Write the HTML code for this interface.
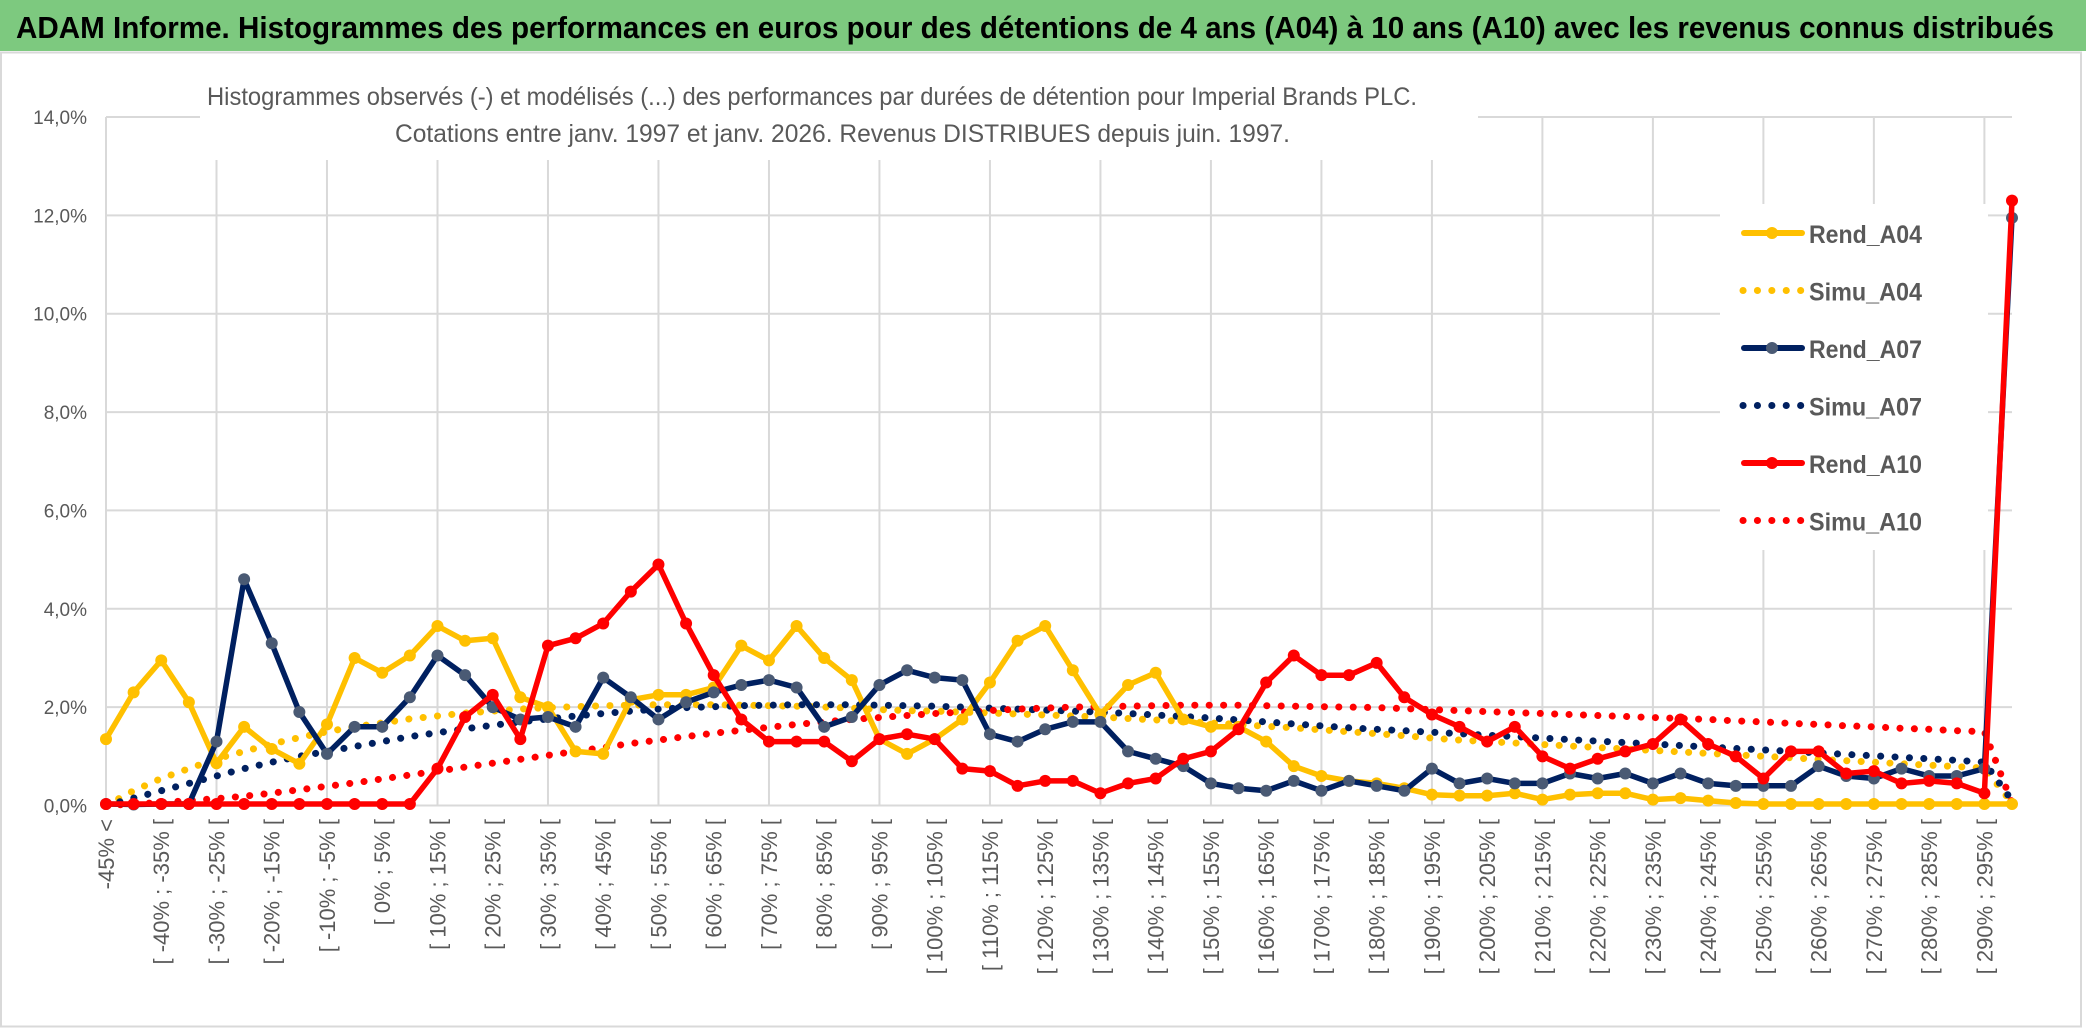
<!DOCTYPE html>
<html><head><meta charset="utf-8"><style>
html,body{margin:0;padding:0;background:#fff;}
svg{display:block;font-family:"Liberation Sans",sans-serif;}
</style></head><body>
<svg id="chart" width="2086" height="1031" viewBox="0 0 2086 1031" xmlns="http://www.w3.org/2000/svg">
<rect x="0" y="0" width="2086" height="1031" fill="#fff"/>
<rect x="0" y="0" width="2086" height="51" fill="#7dc97f"/>
<text x="16" y="38" font-size="31" font-weight="bold" fill="#000" textLength="2038" lengthAdjust="spacingAndGlyphs">ADAM Informe. Histogrammes des performances en euros pour des détentions de 4 ans (A04) à 10 ans (A10) avec les revenus connus distribués</text>
<rect x="1" y="52.5" width="2080" height="974" fill="none" stroke="#d9d9d9" stroke-width="2"/>
<g id="grid"></g>
<rect x="200" y="70" width="1278" height="90" fill="#fff"/>
<text x="207" y="105" font-size="25" fill="#595959" textLength="1210" lengthAdjust="spacingAndGlyphs">Histogrammes observés (-) et modélisés (...) des performances par durées de détention pour Imperial Brands PLC.</text>
<text x="395" y="142" font-size="25" fill="#595959" textLength="895" lengthAdjust="spacingAndGlyphs">Cotations entre janv. 1997 et janv. 2026. Revenus DISTRIBUES depuis juin. 1997.</text>
<rect x="1720" y="204" width="268" height="346" fill="#fff"/>
<g id="yaxis"></g>
<g id="xaxis"></g>
<g id="series"></g>
<g id="legend"></g>
</svg>
<script>
const categories = [];
categories.push('-45% <');
for (let k = 1; k < 70; k++) { const lo = -45 + 5 * (k - 1); categories.push('[ ' + lo + '% ; ' + (lo + 5) + '% ['); }
const yTicks = [0, 2, 4, 6, 8, 10, 12, 14];
const yTickLabels = ['0,0%', '2,0%', '4,0%', '6,0%', '8,0%', '10,0%', '12,0%', '14,0%'];
const seriesNames = ['Rend_A04', 'Simu_A04', 'Rend_A07', 'Simu_A07', 'Rend_A10', 'Simu_A10'];
const rendA04 = [1.35,2.3,2.95,2.1,0.86,1.6,1.15,0.85,1.65,3.0, 2.7,3.05,3.65,3.35,3.4,2.2,2.0,1.1,1.05,2.15, 2.25,2.25,2.4,3.25,2.95,3.65,3.0,2.55,1.35,1.05, 1.35,1.75,2.5,3.35,3.65,2.75,1.85,2.45,2.7,1.75, 1.6,1.6,1.3,0.8,0.6,0.5,0.45,0.35,0.22,0.2, 0.2,0.25,0.12,0.22,0.25,0.25,0.12,0.15,0.1,0.05, 0.03,0.03,0.03,0.03,0.03,0.03,0.03,0.03,0.03,0.03];
const simuA04 = [0.0,0.3,0.55,0.75,0.95,1.1,1.25,1.38,1.5,1.6, 1.68,1.76,1.82,1.88,1.92,1.96,1.99,2.01,2.03,2.04, 2.05,2.05,2.05,2.04,2.03,2.02,2.0,1.98,1.95,1.93, 1.92,1.9,1.88,1.86,1.84,1.82,1.8,1.77,1.74,1.71, 1.68,1.65,1.61,1.58,1.54,1.5,1.46,1.42,1.37,1.33, 1.3,1.27,1.24,1.21,1.18,1.15,1.12,1.09,1.06,1.03, 1.0,0.97,0.94,0.91,0.88,0.85,0.82,0.79,0.76,0.05];
const rendA07 = [0.03,0.02,0.03,0.03,1.3,4.6,3.3,1.9,1.05,1.6, 1.6,2.2,3.05,2.65,2.0,1.75,1.8,1.6,2.6,2.2, 1.75,2.1,2.3,2.45,2.55,2.4,1.6,1.8,2.45,2.75, 2.6,2.55,1.45,1.3,1.55,1.7,1.7,1.1,0.95,0.8, 0.45,0.35,0.3,0.5,0.3,0.5,0.4,0.3,0.75,0.45, 0.55,0.45,0.45,0.65,0.55,0.65,0.45,0.65,0.45,0.4, 0.4,0.4,0.8,0.6,0.55,0.75,0.6,0.6,0.75,11.95];
const simuA07 = [0.0,0.15,0.3,0.45,0.6,0.75,0.88,1.0,1.1,1.2, 1.3,1.4,1.48,1.56,1.63,1.7,1.76,1.82,1.87,1.92, 1.96,1.99,2.01,2.03,2.04,2.05,2.05,2.05,2.04,2.03, 2.02,2.0,1.98,1.96,1.94,1.92,1.9,1.87,1.84,1.81, 1.78,1.74,1.7,1.66,1.62,1.58,1.55,1.52,1.49,1.46, 1.43,1.4,1.37,1.34,1.31,1.28,1.25,1.22,1.19,1.16, 1.13,1.1,1.07,1.04,1.01,0.98,0.95,0.92,0.88,0.1];
const rendA10 = [0.03,0.03,0.03,0.03,0.03,0.03,0.03,0.03,0.03,0.03, 0.03,0.03,0.75,1.8,2.25,1.35,3.25,3.4,3.7,4.35, 4.9,3.7,2.65,1.75,1.3,1.3,1.3,0.9,1.35,1.45, 1.35,0.75,0.7,0.4,0.5,0.5,0.25,0.45,0.55,0.95, 1.1,1.55,2.5,3.05,2.65,2.65,2.9,2.2,1.85,1.6, 1.3,1.6,1.0,0.75,0.95,1.1,1.25,1.75,1.25,1.0, 0.55,1.1,1.1,0.65,0.7,0.45,0.5,0.45,0.25,12.3];
const simuA10 = [0.0,0.03,0.06,0.1,0.14,0.19,0.25,0.32,0.39,0.46, 0.54,0.62,0.7,0.78,0.86,0.94,1.02,1.1,1.18,1.26, 1.33,1.4,1.47,1.53,1.59,1.65,1.7,1.75,1.79,1.83, 1.87,1.9,1.93,1.96,1.98,2.0,2.01,2.02,2.03,2.04, 2.04,2.04,2.03,2.02,2.01,2.0,1.99,1.97,1.95,1.93, 1.91,1.89,1.87,1.85,1.83,1.81,1.79,1.77,1.75,1.72, 1.7,1.67,1.65,1.62,1.6,1.57,1.55,1.52,1.5,0.05];

const NS = 'http://www.w3.org/2000/svg';
const X0 = 106, X1 = 2012, Y0 = 805.5, Y14 = 117;
function xPos(i) { return X0 + i * (X1 - X0) / (categories.length - 1); }
function yPos(v) { return Y0 - v * (Y0 - Y14) / 14; }
function mk(tag, attrs, parent) { const e = document.createElementNS(NS, tag); for (const k in attrs) e.setAttribute(k, attrs[k]); parent.appendChild(e); return e; }

const grid = document.getElementById('grid');
yTicks.forEach(function (t) {
  const l = mk('line', {x1: X0, x2: X1, y1: yPos(t), y2: yPos(t), stroke: '#d9d9d9', 'stroke-width': 2}, grid);
  
  
});
for (let i = 0; i < categories.length; i += 4) {
  const l = mk('line', {x1: xPos(i), x2: xPos(i), y1: Y14, y2: Y0, stroke: '#d9d9d9', 'stroke-width': 2}, grid);
  
  
}
const yaxis = document.getElementById('yaxis');
yTicks.forEach(function (t, i) {
  const tx = mk('text', {x: 87, y: yPos(t) + 7, 'text-anchor': 'end', 'font-size': 19, fill: '#595959'}, yaxis);
  tx.textContent = yTickLabels[i];
  
  
});
const xaxis = document.getElementById('xaxis');
for (let i = 0; i < categories.length; i += 2) {
  const tx = mk('text', {transform: 'translate(' + (xPos(i) + 8) + ',819) rotate(-90)', 'text-anchor': 'end', 'font-size': 22, fill: '#595959'}, xaxis);
  tx.textContent = categories[i];
  
  
}

const seriesG = document.getElementById('series');
function pts(vals) { return vals.map(function (v, i) { return xPos(i).toFixed(1) + ',' + yPos(v).toFixed(1); }).join(' '); }
function dotted(vals, color, name) {
  const p = mk('polyline', {points: pts(vals), fill: 'none', stroke: color, 'stroke-width': 7, 'stroke-linecap': 'round', 'stroke-dasharray': '0.1 14.3'}, seriesG);
  
  
}
function solid(vals, color, mcolor, name) {
  const g = mk('g', {}, seriesG);
  
  
  mk('polyline', {points: pts(vals), fill: 'none', stroke: color, 'stroke-width': 5.5, 'stroke-linejoin': 'round'}, g);
  vals.forEach(function (v, i) {
    const c = mk('circle', {cx: xPos(i), cy: yPos(v), r: 6, fill: mcolor}, g);
    
    
  });
}
dotted(simuA04, '#ffc000', 'simu-a04-line');
dotted(simuA07, '#002060', 'simu-a07-line');
dotted(simuA10, '#ff0000', 'simu-a10-line');
solid(rendA04, '#ffc000', '#ffc000', 'rend-a04-line');
solid(rendA07, '#002060', '#4a5a74', 'rend-a07-line');
solid(rendA10, '#ff0000', '#ff0000', 'rend-a10-line');

const legend = document.getElementById('legend');
const legColors = ['#ffc000', '#ffc000', '#002060', '#002060', '#ff0000', '#ff0000'];
const legMarker = ['#ffc000', null, '#4a5a74', null, '#ff0000', null];
seriesNames.forEach(function (n, i) {
  const y = 233 + i * 57.5;
  const g = mk('g', {}, legend);
  
  
  if (legMarker[i]) {
    mk('line', {x1: 1744, x2: 1802, y1: y, y2: y, stroke: legColors[i], 'stroke-width': 6, 'stroke-linecap': 'round'}, g);
    mk('circle', {cx: 1772, cy: y, r: 6, fill: legMarker[i]}, g);
  } else {
    mk('line', {x1: 1743, x2: 1802, y1: y, y2: y, stroke: legColors[i], 'stroke-width': 7, 'stroke-linecap': 'round', 'stroke-dasharray': '0.1 14.3'}, g);
  }
  const t = mk('text', {x: 1809, y: y + 10, 'font-size': 25, 'font-weight': 'bold', fill: '#595959', textLength: 113, lengthAdjust: 'spacingAndGlyphs'}, g);
  t.textContent = n;
});
</script>
</body></html>
